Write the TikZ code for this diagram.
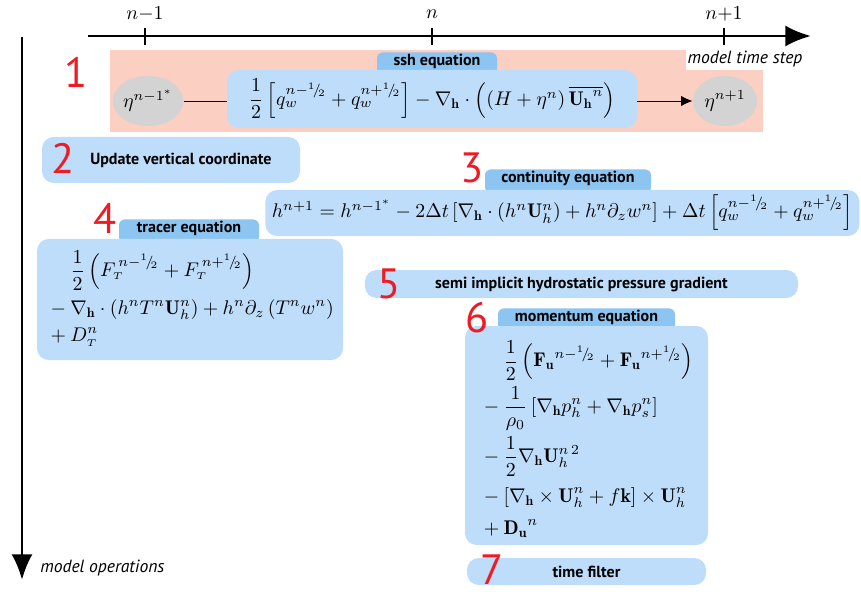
\documentclass[tikz,border=0pt]{standalone}
\usepackage{amsmath}
\usepackage{fontspec}
\setsansfont{PT Sans}
\usetikzlibrary{shapes.geometric,arrows.meta,positioning}
\definecolor{boxblue}{RGB}{190,221,250}
\definecolor{tabblue}{RGB}{140,196,242}
\definecolor{stagepink}{RGB}{251,207,193}
\definecolor{etagray}{RGB}{211,211,211}
\definecolor{numred}{RGB}{237,28,36}
\newcommand\pxu{0.505pt}
\newcommand\gradh{\nabla_{\mathbf{h}}}
\newcommand\shalf{{}^{1}\!/\!{}_{2}}
\tikzset{
  eqbox/.style={fill=boxblue, rounded corners=5.9pt, inner sep=0pt},
  labelfont/.style={font=\sffamily\bfseries\fontsize{8.1}{8.5}\selectfont},
  eqtab/.style={fill=tabblue, rounded corners=3pt, anchor=north, inner sep=0pt,
    text height=6.6pt, text depth=5.3pt, labelfont},
  stepnum/.style={text=numred, inner sep=0pt, font=\sffamily\fontsize{21.4}{21.4}\selectfont},
  eta/.style={ellipse, fill=etagray, inner sep=0pt, minimum width=64*\pxu, minimum height=50*\pxu},
  axislabel/.style={font=\sffamily\itshape\fontsize{8.9}{9}\selectfont, inner sep=1pt},
  timeaxis/.style={line width=1.5pt, -{Latex[length=13pt,width=10.7pt]}},
}
\begin{document}
\begin{tikzpicture}[x=\pxu, y=-\pxu]
  \useasboundingbox (0,0) rectangle (861,591);
  % step 1: ssh
  \node (stage1) [fill=stagepink, anchor=north west, inner sep=0pt,
    minimum width=653*\pxu, minimum height=82*\pxu] at (110,50) {};
  \node (tsteplabel) [axislabel, fill=white, anchor=south, inner xsep=1pt,
    minimum height=21*\pxu] at (745,70) {model time step};
  \node (sshtab) [eqtab, minimum width=120*\pxu] at (437,52) {ssh equation};
  \node (ssh) [eqbox, minimum width=410*\pxu, minimum height=58*\pxu] at (432,99)
    {$\dfrac{1}{2}\left[q_w^{n-\shalf}+q_w^{n+\shalf}\right]-\gradh\cdot\left(\left(H+\eta^n\right)\overline{\mathbf{U_h}^{n}}\right)$};
  \node (eta0) [eta] at (148,101) {$\eta^{n-1^*}$};
  \node (eta1) [eta] at (725,101) {$\eta^{n+1}$};
  \draw[line width=0.5pt] (eta0) -- (eta0 -| ssh.west);
  \draw[line width=0.5pt, -{Latex[length=5.8pt,width=5.2pt]}] (eta1 -| ssh.east) -- (eta1);
  % step 2
  \node (update) [eqbox, labelfont, minimum width=258*\pxu, minimum height=46*\pxu]
    at (171,160) {\hspace{10pt}Update vertical coordinate};
  % step 3: continuity
  \node (conttab) [eqtab, minimum width=166*\pxu] at (568,169) {continuity equation};
  \node (cont) [eqbox, anchor=west, minimum width=594*\pxu, minimum height=46*\pxu] at (265,213)
    {$h^{n+1}=h^{n-1^*}-2\Delta t\,[\gradh\cdot(h^n\mathbf{U}_h^n)+h^n\partial_z w^n]+\Delta t\left[q_w^{n-\shalf}+q_w^{n+\shalf}\right]$};
  % step 4: tracer
  \node (tracertab) [eqtab, minimum width=140*\pxu] at (189,219) {tracer equation};
  \node (tracer) [eqbox, minimum width=306*\pxu, minimum height=121*\pxu] at (190,299.5)
    {$\begin{array}{@{}l@{}}
      \displaystyle\phantom{{}-{}}\frac{1}{2}\left(F_{\scriptscriptstyle T}^{\,n-\shalf}+F_{\scriptscriptstyle T}^{\,n+\shalf}\right)\\[7pt]
      \displaystyle{}-\gradh\cdot\left(h^nT^n\mathbf{U}_h^n\right)+h^n\partial_z\left(T^nw^n\right)\\[1.7pt]
      \displaystyle{}+D_{\scriptscriptstyle T}^{n}
    \end{array}$};
  % step 5
  \node (pgrad) [eqbox, labelfont, minimum width=433*\pxu, minimum height=28*\pxu] at (581.5,284)
    {semi implicit hydrostatic pressure gradient};
  % step 6: momentum
  \node (momtab) [eqtab, minimum width=177*\pxu] at (586.5,308) {momentum equation};
  \node (mom) [eqbox, minimum width=243*\pxu, minimum height=219*\pxu] at (586.5,435.5)
    {$\begin{array}{@{}l@{}}
      \displaystyle\rule{0pt}{19pt}\phantom{{}-{}}\frac{1}{2}\left(\mathbf{F_u}^{n-\shalf}+\mathbf{F_u}^{n+\shalf}\right)\\[6.4pt]
      \displaystyle{}-\frac{1}{\rho_0}\left[\gradh p_h^n+\gradh p_s^n\right]\\[8.4pt]
      \displaystyle{}-\frac{1}{2}\gradh\mathbf{U}_h^{n\,2}\\[7.9pt]
      \displaystyle{}-\left[\gradh\times\mathbf{U}_h^n+f\mathbf{k}\right]\times\mathbf{U}_h^n\\[4.4pt]
      \displaystyle{}+\mathbf{D_u}^{n}
    \end{array}$};
  % step 7
  \node (filter) [eqbox, labelfont, minimum width=239*\pxu, minimum height=27*\pxu] at (586.5,571.5)
    {time filter};
  % step numbers
  \node (num1) [stepnum] at (76,72) {1};
  \node (num2) [stepnum] at (63,158) {2};
  \node (num3) [stepnum] at (472,168) {3};
  \node (num4) [stepnum] at (105,218) {4};
  \node (num5) [stepnum] at (389,284) {5};
  \node (num6) [stepnum] at (477,318) {6};
  \node (num7) [stepnum] at (492,570) {7};
  % axes
  \coordinate (tstart) at (88,36);
  \coordinate (tend) at (811,36);
  \draw[timeaxis] (tstart) -- (tend);
  \foreach \tx/\tlab [count=\i] in {145/n{-}1, 432/n, 724/n{+}1} {
    \draw[line width=0.6pt] (\tx,28) -- (\tx,45);
    \node (tick\i) at (\tx,14) {$\tlab$};
  }
  \coordinate (ostart) at (22,37);
  \coordinate (oend) at (22,580);
  \draw[timeaxis] (ostart) -- (oend);
  \node (opslabel) [axislabel, anchor=west] at (38,568) {model operations};
\end{tikzpicture}
\end{document}
